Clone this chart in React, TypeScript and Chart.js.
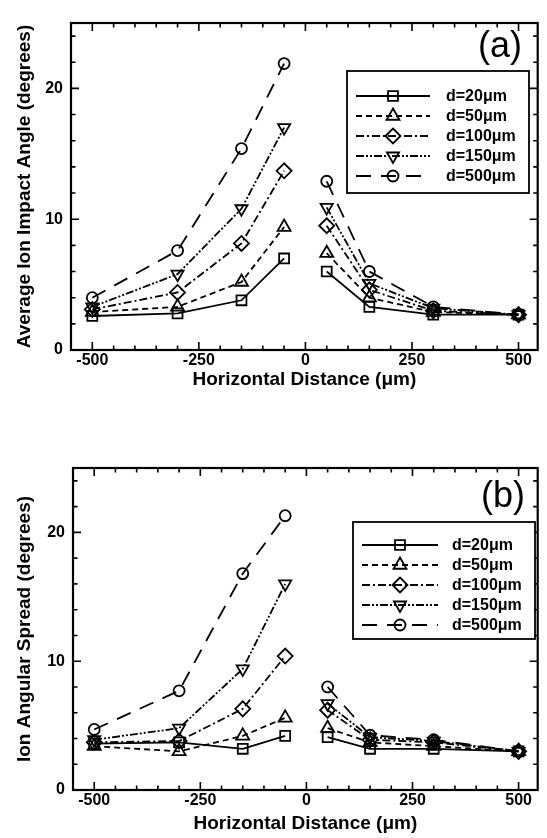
import React, { useEffect, useRef } from 'react';
import { Chart, registerables } from 'chart.js';
import { drawPoint } from 'chart.js/helpers';

Chart.register(...registerables);

// Horizontal sampling positions (µm); the trench centre (0) has no data.
const DISTANCES = [-500, -300, -150, -50, 50, 150, 300, 500];
const SERIES_NAMES = ['d=20μm', 'd=50μm', 'd=100μm', 'd=150μm', 'd=500μm'];

// (a) average ion impact angle, degrees
const impactD20 = [2.6, 2.8, 3.8, 7.0, 6.0, 3.3, 2.7, 2.7];
const impactD50 = [2.9, 3.3, 5.2, 9.4, 7.4, 4.0, 2.9, 2.7];
const impactD100 = [3.1, 4.4, 8.15, 13.7, 9.5, 4.6, 3.0, 2.7];
const impactD150 = [3.3, 5.8, 10.8, 17.0, 10.9, 5.1, 3.2, 2.7];
const impactD500 = [4.0, 7.6, 15.4, 21.9, 12.9, 6.0, 3.3, 2.7];

// (b) ion angular spread, degrees
const spreadD20 = [3.6, 3.7, 3.2, 4.2, 4.1, 3.2, 3.2, 3.0];
const spreadD50 = [3.4, 3.0, 4.2, 5.6, 4.8, 3.7, 3.4, 3.0];
const spreadD100 = [3.7, 3.8, 6.3, 10.4, 6.2, 3.9, 3.7, 3.0];
const spreadD150 = [3.9, 4.8, 9.4, 16.0, 6.7, 4.1, 3.8, 3.0];
const spreadD500 = [4.7, 7.7, 16.8, 21.3, 8.0, 4.25, 3.9, 3.0];

const X_TICK_LABELS = [-500, -250, 0, 250, 500];
const Y_TICK_LABELS = [0, 10, 20];
const X_MINOR_STEP = 50;
const Y_MINOR_STEP = 2;
const X_MIN = -550;
const X_MAX = 545;
const Y_MIN = 0;
const Y_MAX = 25;

const FONT = '"Liberation Sans", Arial, Helvetica, sans-serif';

const SERIES_STYLE = [
  { pointStyle: 'rect', rotation: 0, radius: 7, dash: [] as number[] },
  { pointStyle: 'triangle', rotation: 0, radius: 7.5, dash: [6, 4] },
  { pointStyle: 'rectRot', rotation: 0, radius: 7.5, dash: [8, 3, 2, 3] },
  { pointStyle: 'triangle', rotation: 180, radius: 7, dash: [8, 2, 2, 2, 2, 2] },
  { pointStyle: 'circle', rotation: 0, radius: 5.5, dash: [15, 10] },
];

type Panel = {
  height: number;
  padTop: number;
  padRight: number;
  yAxisWidth: number;
  xAxisHeight: number;
  yTitle: string;
  yTitlePad: number;
  xTitlePad: number;
  xTickPad: number;
  tag: string;
  tagX: number;
  tagY: number;
  legend: {
    left: number; top: number; right: number; bottom: number;
    row0: number; step: number; line0: number; line1: number; marker: number; text: number;
  };
  values: number[][];
};

const PANEL_A: Panel = {
  height: 420,
  padTop: 23,
  padRight: 3,
  yAxisWidth: 71,
  xAxisHeight: 70,
  yTitle: 'Average Ion Impact Angle (degrees)',
  yTitlePad: 13,
  xTitlePad: 29,
  xTickPad: 1,
  tag: '(a)',
  tagX: 500,
  tagY: 47,
  legend: { left: 347, top: 71, right: 529, bottom: 193, row0: 96, step: 20, line0: 356, line1: 430, marker: 393, text: 446 },
  values: [impactD20, impactD50, impactD100, impactD150, impactD500],
};

const PANEL_B: Panel = {
  height: 418,
  padTop: 48,
  padRight: 1,
  yAxisWidth: 73,
  xAxisHeight: 48,
  yTitle: 'Ion Angular Spread (degrees)',
  yTitlePad: 13,
  xTitlePad: 3,
  xTickPad: 1,
  tag: '(b)',
  tagX: 503,
  tagY: 77,
  legend: { left: 353, top: 102, right: 535, bottom: 219, row0: 125, step: 20, line0: 362, line1: 438, marker: 400, text: 452 },
  values: [spreadD20, spreadD50, spreadD100, spreadD150, spreadD500],
};

// Lines are broken across the trench centre: a null point at x = 0 leaves a gap.
function buildPoints(values: number[]) {
  const pts: { x: number; y: number | null }[] = [];
  DISTANCES.forEach((x, i) => {
    if (i > 0 && DISTANCES[i - 1] < 0 && x > 0) pts.push({ x: 0, y: null });
    pts.push({ x, y: values[i] });
  });
  return pts;
}

function decorPlugin(panel: Panel) {
  return {
    id: 'panelDecor',
    afterDatasetsDraw(chart: any) {
      const { ctx, chartArea: a, scales } = chart;
      const xs = scales.x;
      const ys = scales.y;
      ctx.save();
      ctx.strokeStyle = '#000';
      ctx.fillStyle = '#000';
      ctx.setLineDash([]);

      // inward tick marks on all four sides
      ctx.lineWidth = 1.6;
      ctx.beginPath();
      for (let v = Math.ceil(X_MIN / X_MINOR_STEP) * X_MINOR_STEP; v <= X_MAX; v += X_MINOR_STEP) {
        const px = xs.getPixelForValue(v);
        if (px < a.left + 3 || px > a.right - 3) continue;
        const len = v % 250 === 0 ? 8 : 4.5;
        ctx.moveTo(px, a.bottom);
        ctx.lineTo(px, a.bottom - len);
        ctx.moveTo(px, a.top);
        ctx.lineTo(px, a.top + len);
      }
      for (let v = Y_MIN; v <= Y_MAX; v += Y_MINOR_STEP) {
        const py = ys.getPixelForValue(v);
        if (py < a.top + 3 || py > a.bottom - 3) continue;
        const len = v % 10 === 0 ? 8 : 4.5;
        ctx.moveTo(a.left, py);
        ctx.lineTo(a.left + len, py);
        ctx.moveTo(a.right, py);
        ctx.lineTo(a.right - len, py);
      }
      ctx.stroke();

      // frame
      ctx.lineWidth = 2.2;
      ctx.strokeRect(a.left, a.top, a.right - a.left, a.bottom - a.top);

      // panel tag
      ctx.font = `36px ${FONT}`;
      ctx.textAlign = 'center';
      ctx.textBaseline = 'middle';
      ctx.fillText(panel.tag, panel.tagX, panel.tagY);

      // legend
      const L = panel.legend;
      ctx.fillStyle = '#fff';
      ctx.fillRect(L.left, L.top, L.right - L.left, L.bottom - L.top);
      ctx.lineWidth = 1.8;
      ctx.strokeStyle = '#000';
      ctx.strokeRect(L.left, L.top, L.right - L.left, L.bottom - L.top);
      ctx.font = `bold 16px ${FONT}`;
      ctx.textAlign = 'left';
      chart.data.datasets.forEach((ds: any, i: number) => {
        const y = L.row0 + i * L.step;
        ctx.setLineDash(ds.borderDash || []);
        ctx.lineWidth = ds.borderWidth;
        ctx.beginPath();
        ctx.moveTo(L.line0, y);
        ctx.lineTo(L.line1, y);
        ctx.stroke();
        ctx.setLineDash([]);
        ctx.lineWidth = ds.pointBorderWidth;
        ctx.fillStyle = 'rgba(0,0,0,0)';
        drawPoint(ctx, {
          pointStyle: ds.pointStyle,
          rotation: ds.pointRotation,
          radius: ds.pointRadius,
          borderWidth: ds.pointBorderWidth,
        } as any, L.marker, y);
        ctx.fillStyle = '#000';
        ctx.fillText(ds.label, L.text, y + 1);
      });
      ctx.restore();
    },
  };
}

function makeChart(canvas: HTMLCanvasElement, panel: Panel) {
  const tickFont = { family: FONT, size: 16, weight: 'bold' as const };
  const titleFont = { family: FONT, size: 19, weight: 'bold' as const };
  return new Chart(canvas, {
    type: 'line',
    data: {
      datasets: panel.values.map((vals, i) => ({
        label: SERIES_NAMES[i],
        data: buildPoints(vals),
        borderColor: '#000',
        borderWidth: 1.8,
        borderDash: SERIES_STYLE[i].dash,
        pointStyle: SERIES_STYLE[i].pointStyle as any,
        pointRotation: SERIES_STYLE[i].rotation,
        pointRadius: SERIES_STYLE[i].radius,
        pointBorderColor: '#000',
        pointBorderWidth: 1.8,
        pointBackgroundColor: 'rgba(0,0,0,0)',
        fill: false,
        tension: 0,
        spanGaps: false,
      })),
    },
    options: {
      responsive: false,
      animation: false,
      events: [],
      layout: { padding: { top: panel.padTop, right: panel.padRight, left: 0, bottom: 0 } },
      plugins: { legend: { display: false }, tooltip: { enabled: false } },
      scales: {
        x: {
          type: 'linear',
          min: X_MIN,
          max: X_MAX,
          afterBuildTicks: (s: any) => { s.ticks = X_TICK_LABELS.map((v) => ({ value: v })); },
          afterFit: (s: any) => { s.height = panel.xAxisHeight; },
          ticks: { color: '#000', font: tickFont, padding: panel.xTickPad, maxRotation: 0, autoSkip: false },
          grid: { display: false, drawTicks: false },
          border: { display: false },
          title: {
            display: true,
            text: 'Horizontal Distance (μm)',
            color: '#000',
            font: titleFont,
            padding: { top: 0, bottom: panel.xTitlePad },
          },
        },
        y: {
          type: 'linear',
          min: Y_MIN,
          max: Y_MAX,
          afterBuildTicks: (s: any) => { s.ticks = Y_TICK_LABELS.map((v) => ({ value: v })); },
          afterFit: (s: any) => { s.width = panel.yAxisWidth; },
          ticks: { color: '#000', font: tickFont, padding: 8 },
          grid: { display: false, drawTicks: false },
          border: { display: false },
          title: {
            display: true,
            text: panel.yTitle,
            color: '#000',
            font: titleFont,
            padding: { top: panel.yTitlePad, bottom: 0 },
          },
        },
      },
    },
    plugins: [decorPlugin(panel)],
  } as any);
}

export default function App() {
  const refA = useRef<HTMLCanvasElement>(null);
  const refB = useRef<HTMLCanvasElement>(null);

  useEffect(() => {
    const charts = [makeChart(refA.current!, PANEL_A), makeChart(refB.current!, PANEL_B)];
    return () => charts.forEach((c) => c.destroy());
  }, []);

  return (
    <div style={{ position: 'absolute', left: 0, top: 0, width: 547, height: 838, background: '#fff', overflow: 'hidden' }}>
      <canvas ref={refA} width={547} height={PANEL_A.height} style={{ position: 'absolute', left: 0, top: 0 }} />
      <canvas ref={refB} width={547} height={PANEL_B.height} style={{ position: 'absolute', left: 0, top: 420 }} />
    </div>
  );
}
